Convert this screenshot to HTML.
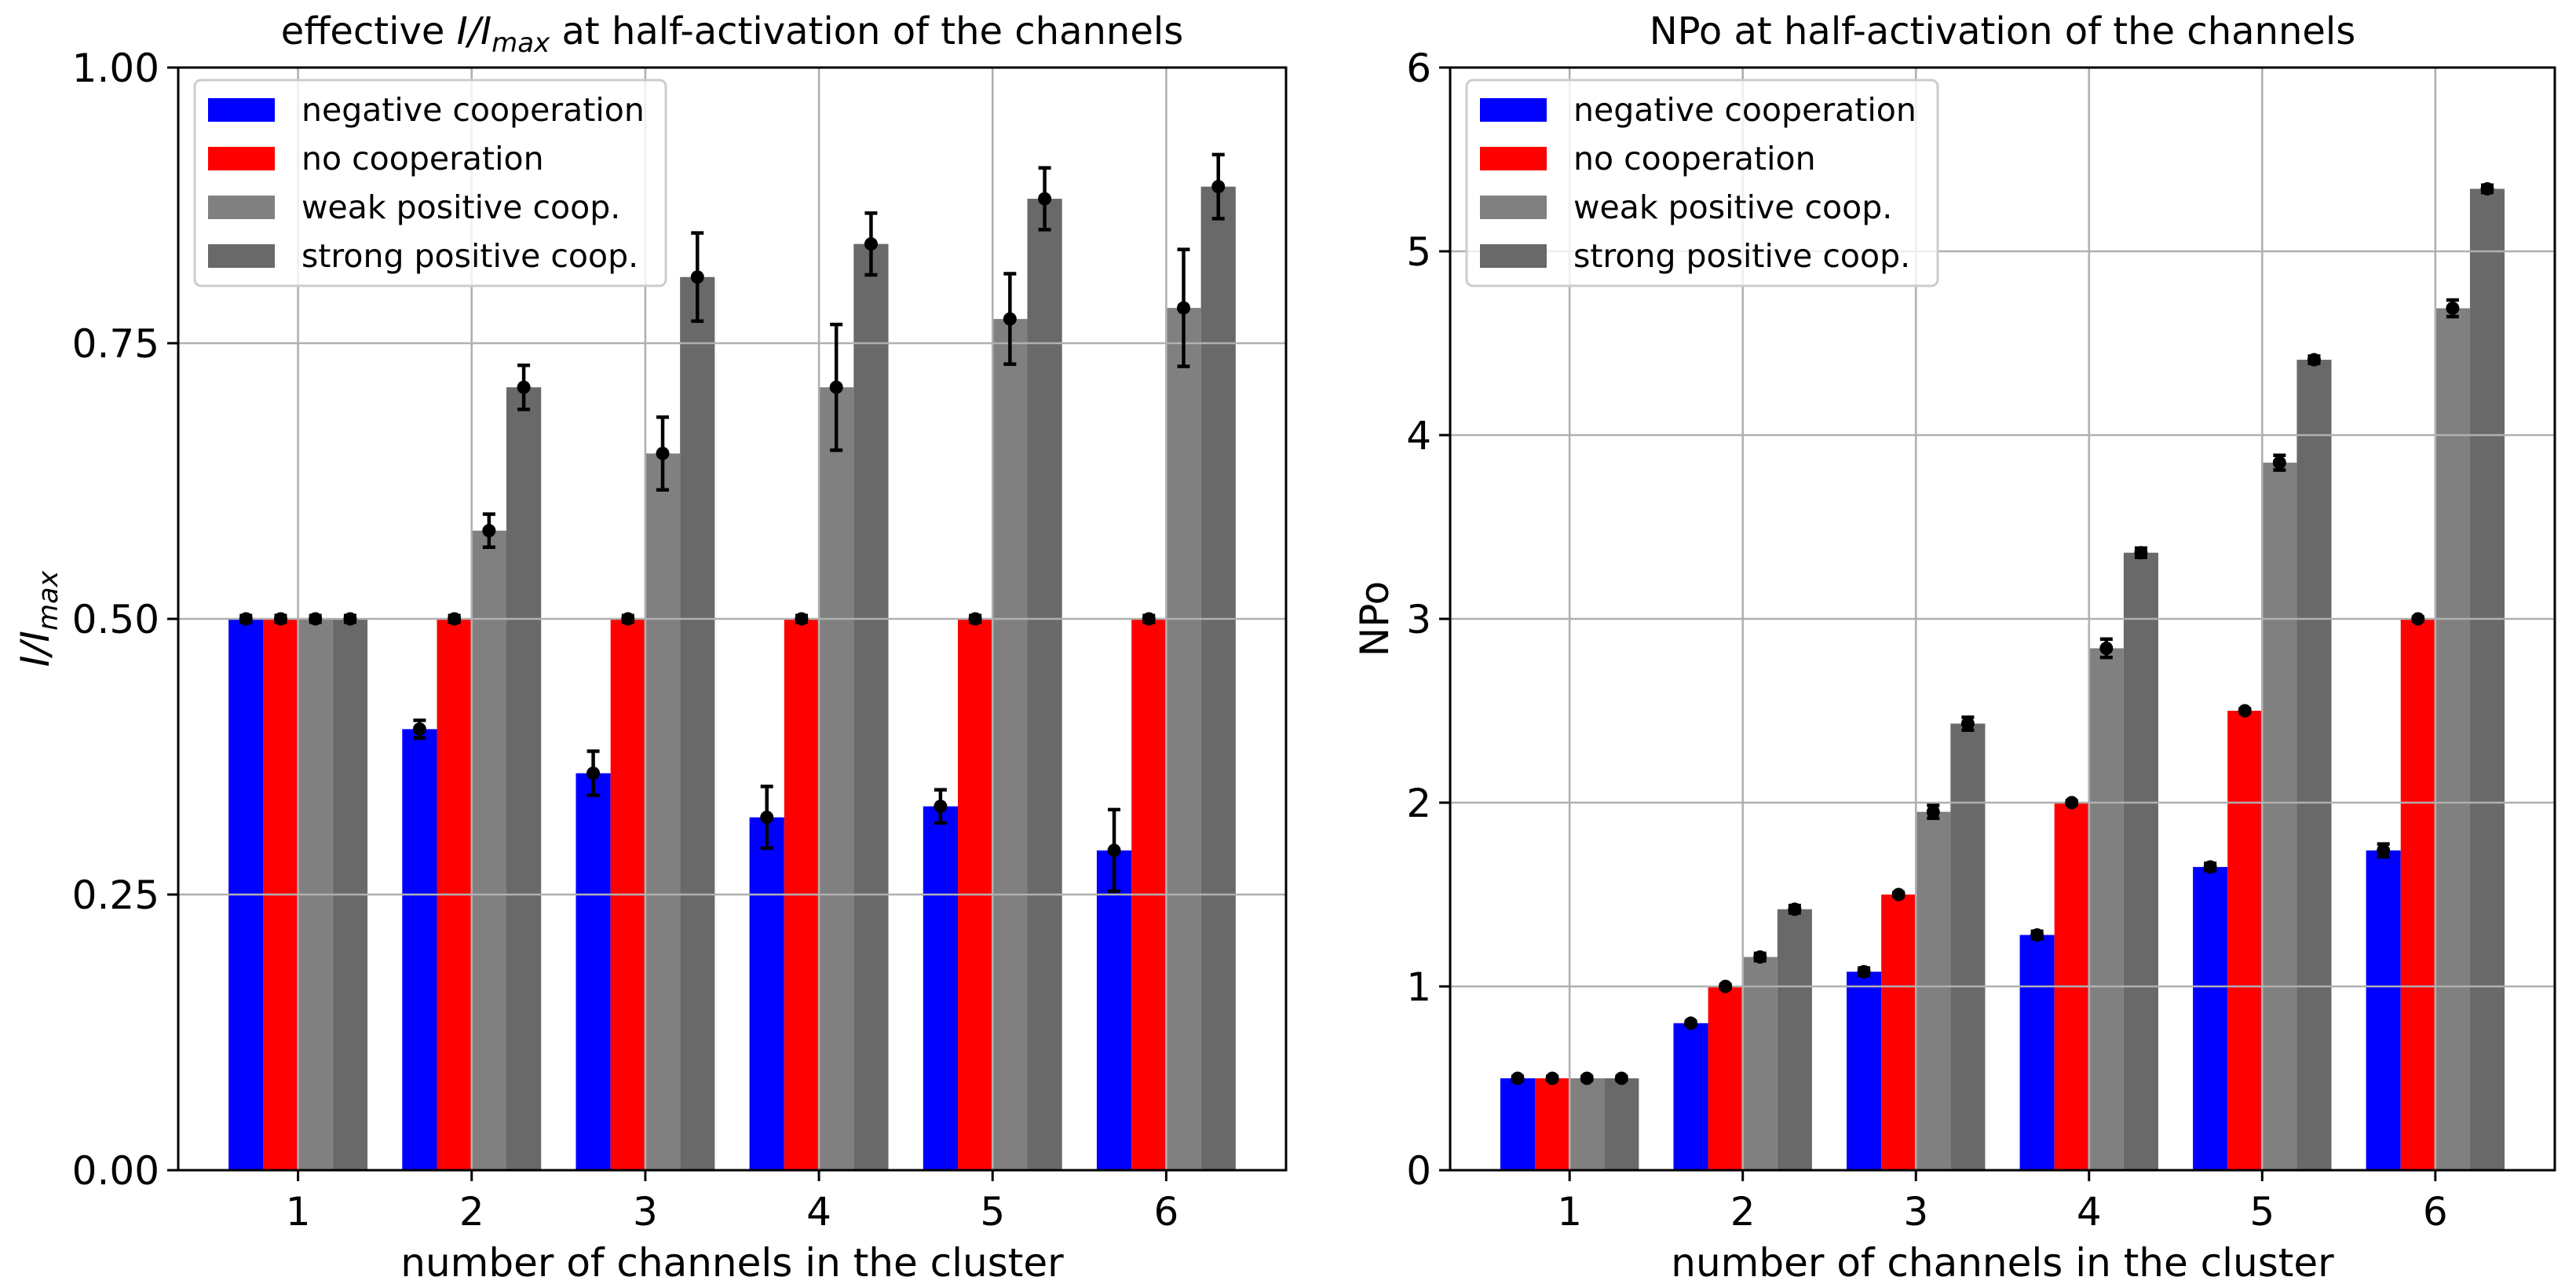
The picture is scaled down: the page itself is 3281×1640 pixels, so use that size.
<!DOCTYPE html>
<html><head><meta charset="utf-8"><style>
html,body{margin:0;padding:0;background:#fff;}
svg{display:block;font-family:"DejaVu Sans","Liberation Sans",sans-serif;}
</style></head><body>
<svg id="fig" width="3281" height="1640" viewBox="0 0 3281 1640" xmlns="http://www.w3.org/2000/svg">
<rect width="3281" height="1640" fill="#fff"/>
</svg>
<script>
const categories = [1, 2, 3, 4, 5, 6];
const seriesNames = ["negative cooperation", "no cooperation", "weak positive coop.", "strong positive coop."];
const seriesColors = ["#0000ff", "#ff0000", "#808080", "#696969"];
const leftNeg = [0.50, 0.40, 0.36, 0.32, 0.33, 0.29];
const leftNo = [0.50, 0.50, 0.50, 0.50, 0.50, 0.50];
const leftWeak = [0.50, 0.58, 0.65, 0.71, 0.772, 0.782];
const leftStrong = [0.50, 0.71, 0.81, 0.84, 0.881, 0.892];
const leftNegErr = [0.003, 0.008, 0.02, 0.028, 0.015, 0.037];
const leftNoErr = [0.003, 0.003, 0.003, 0.003, 0.003, 0.003];
const leftWeakErr = [0.003, 0.015, 0.033, 0.057, 0.041, 0.053];
const leftStrongErr = [0.003, 0.02, 0.04, 0.028, 0.028, 0.029];
const rightNeg = [0.50, 0.80, 1.08, 1.28, 1.65, 1.74];
const rightNo = [0.50, 1.00, 1.50, 2.00, 2.50, 3.00];
const rightWeak = [0.50, 1.16, 1.95, 2.84, 3.85, 4.69];
const rightStrong = [0.50, 1.42, 2.43, 3.36, 4.41, 5.34];
const rightNegErr = [0.01, 0.01, 0.02, 0.02, 0.02, 0.035];
const rightNoErr = [0.01, 0.01, 0.01, 0.01, 0.01, 0.01];
const rightWeakErr = [0.01, 0.02, 0.035, 0.05, 0.04, 0.045];
const rightStrongErr = [0.01, 0.02, 0.035, 0.025, 0.02, 0.02];
const leftTicks = [0, 0.25, 0.5, 0.75, 1.0];
const leftTickLabels = ["0.00", "0.25", "0.50", "0.75", "1.00"];
const rightTicks = [0, 1, 2, 3, 4, 5, 6];
const rightTickLabels = ["0", "1", "2", "3", "4", "5", "6"];

const NS = "http://www.w3.org/2000/svg";
const svg = document.getElementById("fig");
function mk(tag, attrs, parent, text) {
  const e = document.createElementNS(NS, tag);
  for (const k in attrs) e.setAttribute(k, attrs[k]);
  if (text !== undefined) e.textContent = text;
  (parent || svg).appendChild(e);
  return e;
}

function drawPanel(opt) {
  const g = mk("g", {});
  
  
  const L = opt.x0, R = opt.x1, T = 86, B = 1490;
  const xmin = 0.31, xmax = 6.69;
  const sx = v => L + (v - xmin) / (xmax - xmin) * (R - L);
  const sy = v => B - (v - opt.ymin) / (opt.ymax - opt.ymin) * (B - T);
  const offs = [-0.3, -0.1, 0.1, 0.3];
  const bw = 0.2;
  opt.series.forEach((vals, si) => {
    vals.forEach((v, i) => {
      const x = sx(categories[i] + offs[si] - bw / 2);
      const w = sx(categories[i] + offs[si] + bw / 2) - x;
      const r = mk("rect", {x: x, y: sy(v), width: w, height: sy(opt.ymin) - sy(v), fill: seriesColors[si]}, g);
      
      
    });
  });
  opt.ticks.forEach(t => {
    const l = mk("line", {x1: L, x2: R, y1: sy(t), y2: sy(t), stroke: "#b0b0b0", "stroke-width": 2.6}, g);
    
    
  });
  categories.forEach(c => {
    const l = mk("line", {x1: sx(c), x2: sx(c), y1: T, y2: B, stroke: "#b0b0b0", "stroke-width": 2.6}, g);
    
    
  });
  opt.series.forEach((vals, si) => {
    vals.forEach((v, i) => {
      const cx = sx(categories[i] + offs[si]);
      const e = opt.errs[si][i];
      const eg = mk("g", {stroke: "#000", "stroke-width": 4.5}, g);
      
      
      mk("line", {x1: cx, x2: cx, y1: sy(v - e), y2: sy(v + e)}, eg);
      mk("line", {x1: cx - 8, x2: cx + 8, y1: sy(v - e), y2: sy(v - e)}, eg);
      mk("line", {x1: cx - 8, x2: cx + 8, y1: sy(v + e), y2: sy(v + e)}, eg);
      const m = mk("circle", {cx: cx, cy: sy(v), r: 8.5, fill: "#000", stroke: "none"}, g);
      
      
    });
  });
  const fr = mk("rect", {x: L, y: T, width: R - L, height: B - T, fill: "none", stroke: "#000", "stroke-width": 3}, g);
  
  
  opt.ticks.forEach((t, i) => {
    mk("line", {x1: L - 14, x2: L, y1: sy(t), y2: sy(t), stroke: "#000", "stroke-width": 3}, g);
    const tx = mk("text", {x: L - 24, y: sy(t) + 18, "text-anchor": "end", "font-size": 50, fill: "#000"}, g, opt.tickLabels[i]);
    
    
  });
  categories.forEach(c => {
    mk("line", {x1: sx(c), x2: sx(c), y1: B, y2: B + 14, stroke: "#000", "stroke-width": 3}, g);
    const tx = mk("text", {x: sx(c), y: B + 70, "text-anchor": "middle", "font-size": 50, fill: "#000"}, g, String(c));
    
    
  });
  const xl = mk("text", {x: (L + R) / 2, y: 1625, "text-anchor": "middle", "font-size": 50, fill: "#000"}, g, "number of channels in the cluster");
  
  
  const yl = mk("text", {x: 0, y: 0, "text-anchor": "middle", "font-size": 50, fill: "#000", transform: "translate(" + opt.ylx + "," + ((T + B) / 2) + ") rotate(-90)"}, g);
  
  
  opt.ylabel(yl);
  const tt = mk("text", {x: (L + R) / 2, y: 56, "text-anchor": "middle", "font-size": 48, fill: "#000"}, g);
  
  
  opt.title(tt);
  const lg = mk("g", {}, g);
  
  
  const lx = L + 21;
  mk("rect", {x: lx, y: 102, width: 600, height: 262, rx: 8, fill: "#fff", "fill-opacity": 0.8, stroke: "#cccccc", "stroke-width": 3}, lg);
  seriesNames.forEach((n, i) => {
    const cy = 140 + i * 62;
    const e = mk("g", {}, lg);
    
    
    mk("rect", {x: lx + 17, y: cy - 15, width: 85, height: 30, fill: seriesColors[i]}, e);
    mk("text", {x: lx + 136, y: cy + 14, "font-size": 41, fill: "#000"}, e, n);
  });
}

function tsp(parent, txt, attrs) { return mk("tspan", attrs || {}, parent, txt); }

drawPanel({
  name: "left-panel", x0: 227, x1: 1638, ymin: 0, ymax: 1,
  series: [leftNeg, leftNo, leftWeak, leftStrong],
  errs: [leftNegErr, leftNoErr, leftWeakErr, leftStrongErr],
  ticks: leftTicks, tickLabels: leftTickLabels, ylx: 62,
  ylabel: t => { tsp(t, "I/I", {"font-style": "italic"}); tsp(t, "max", {"font-style": "italic", "font-size": 35, dy: 11}); },
  title: t => { tsp(t, "effective "); tsp(t, "I/I", {"font-style": "italic"}); tsp(t, "max", {"font-style": "italic", "font-size": 34, dy: 10}); tsp(t, " at half-activation of the channels", {dy: -10}); }
});
drawPanel({
  name: "right-panel", x0: 1847, x1: 3254, ymin: 0, ymax: 6,
  series: [rightNeg, rightNo, rightWeak, rightStrong],
  errs: [rightNegErr, rightNoErr, rightWeakErr, rightStrongErr],
  ticks: rightTicks, tickLabels: rightTickLabels, ylx: 1768,
  ylabel: t => { t.textContent = "NPo"; },
  title: t => { t.textContent = "NPo at half-activation of the channels"; }
});
</script>
</body></html>
